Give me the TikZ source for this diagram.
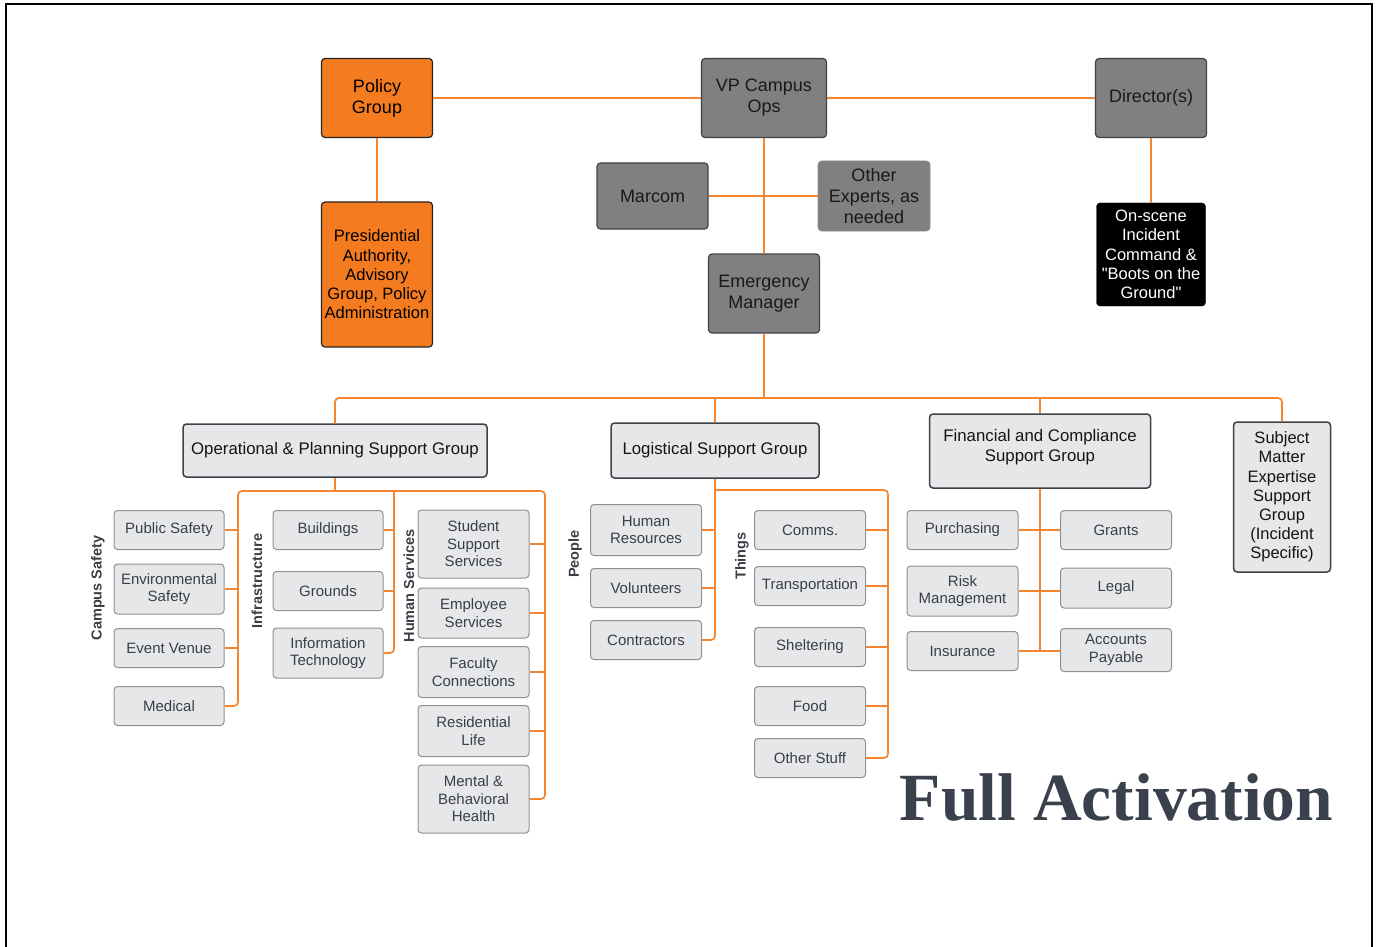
\documentclass[tikz,border=0pt]{standalone}
\usepackage{fontspec}
\setmainfont{Liberation Sans}
\newfontfamily\qfont{Liberation Sans}
\newfontfamily\titlefont{Liberation Serif}
\definecolor{orgfill}{HTML}{F47B20}
\definecolor{orgline}{HTML}{F5852F}
\definecolor{midgray}{HTML}{808080}
\definecolor{darkedge}{HTML}{3D4249}
\definecolor{leaffill}{HTML}{E6E7E9}
\definecolor{leafedge}{HTML}{8E9196}
\definecolor{leaftext}{HTML}{3A3F47}
\definecolor{titlecol}{HTML}{3A414C}
\tikzset{
  base/.style={inner sep=0pt, align=center, rounded corners=3.5pt},
  orangebox/.style={base, fill=orgfill, draw=black!85, line width=1.2pt, text=black},
  darkbox/.style={base, fill=midgray, draw=darkedge, line width=1.2pt, text=black!90},
  softbox/.style={base, fill=midgray, draw=midgray!90, line width=0.6pt, text=black!90},
  blackbox/.style={base, fill=black, draw=black, text=white},
  groupbox/.style={base, fill=leaffill, draw=darkedge, line width=1.5pt, text=black!92,
     font=\fontsize{16.8}{20}\selectfont},
  leaf/.style={base, fill=leaffill, draw=leafedge, line width=1pt, text=leaftext,
     font=\fontsize{15}{17.5}\selectfont},
  sidelabel/.style={rotate=90, font=\bfseries\fontsize{14.5}{16}\selectfont, text=leaftext, inner sep=0pt},
  conn/.style={draw=orgline, line width=1.7pt, rounded corners=4pt},
}
\begin{document}
\begin{tikzpicture}[x=1pt,y=-1pt]
\useasboundingbox (0,0) rectangle (1377,947);
% frame
\draw[line width=2.5pt, black] (6,950) -- (6,4) -- (1372,4) -- (1372,950);

% top level
\node[orangebox, minimum width=111, minimum height=79, font=\fontsize{18}{21}\selectfont] (policy) at (377,98) {Policy\\Group};
\node[orangebox, minimum width=111, minimum height=145, font=\fontsize{16.5}{19.25}\selectfont] (pres) at (377,274.5) {Presidential\\Authority,\\Advisory\\Group, Policy\\Administration};
\node[darkbox, minimum width=125, minimum height=79, font=\fontsize{18}{21}\selectfont] (vp) at (764,98) {VP Campus\\Ops};
\node[darkbox, minimum width=111, minimum height=79, font=\fontsize{18}{21}\selectfont] (dir) at (1151,98) {Director(s)};
\node[darkbox, minimum width=111, minimum height=66, font=\fontsize{18}{21}\selectfont] (marcom) at (652.5,196) {Marcom};
\node[softbox, minimum width=112, minimum height=70, font=\fontsize{18}{21}\selectfont] (other) at (874,196) {Other\\Experts, as\\needed};
\node[darkbox, minimum width=111, minimum height=79, font=\fontsize{18}{21}\selectfont] (em) at (764,293.5) {Emergency\\Manager};
\node[blackbox, minimum width=109, minimum height=103, font=\fontsize{16.5}{19.25}\selectfont] (onscene) at (1151,254.5) {On-scene\\Incident\\Command \&\\{\qfont"}Boots on the\\Ground{\qfont"}};

\draw[conn] (policy.east) -- (vp.west);
\draw[conn] (vp.east) -- (dir.west);
\draw[conn] (policy.south) -- (pres.north);
\draw[conn] (dir.south) -- (onscene.north);
\draw[conn] (marcom.east) -- (other.west);
\draw[conn] (vp.south) -- (em.north);

% second level
\node[groupbox, minimum width=304, minimum height=53] (opsg) at (335,450.5) {Operational \& Planning Support Group};
\node[groupbox, minimum width=208, minimum height=55] (lsg) at (715,450.5) {Logistical Support Group};
\node[groupbox, minimum width=221, minimum height=74] (fcsg) at (1040,451) {Financial and Compliance\\Support Group\\[-14pt]\strut};
\node[groupbox, minimum width=97, minimum height=150, font=\fontsize{16.5}{19.2}\selectfont] (sme) at (1282,497) {Subject\\Matter\\Expertise\\Support\\Group\\(Incident\\Specific)};

\coordinate (bus) at (764,398);
\draw[conn] (em.south) -- (bus);
\draw[conn] (opsg.north) |- (bus) -| (sme.north);
\draw[conn] (lsg.north) -- (lsg.north |- bus);
\draw[conn] (fcsg.north) -- (fcsg.north |- bus);

% Operational children
\node[leaf, minimum width=110, minimum height=39] (ps)  at (169,530) {Public Safety};
\node[leaf, minimum width=110, minimum height=50] (env) at (169,589) {Environmental\\Safety};
\node[leaf, minimum width=110, minimum height=39] (ev)  at (169,648) {Event Venue};
\node[leaf, minimum width=110, minimum height=39] (med) at (169,706) {Medical};
\node[leaf, minimum width=110, minimum height=39] (bld) at (328,530) {Buildings};
\node[leaf, minimum width=110, minimum height=39] (grd) at (328,591) {Grounds};
\node[leaf, minimum width=110, minimum height=50] (it)  at (328,653) {Information\\Technology};
\node[leaf, minimum width=111, minimum height=68] (ss)  at (473.5,544) {Student\\Support\\Services};
\node[leaf, minimum width=111, minimum height=50] (es)  at (473.5,613) {Employee\\Services};
\node[leaf, minimum width=111, minimum height=51] (fc)  at (473.5,672) {Faculty\\Connections};
\node[leaf, minimum width=111, minimum height=51] (rl)  at (473.5,731) {Residential\\Life};
\node[leaf, minimum width=111, minimum height=68] (mh)  at (473.5,799) {Mental \&\\Behavioral\\Health};

\node[sidelabel] (lcs) at (98,588) {Campus Safety};
\node[sidelabel] (lin) at (257,581) {Infrastructure};
\node[sidelabel] (lhs) at (409,586) {Human Services};

\coordinate (csTop) at (238,491);
\coordinate (inTop) at (394,491);
\coordinate (hsTop) at (545,491);
\draw[conn] (opsg.south) -- (opsg.south |- csTop);
\draw[conn] (med.east) -| (csTop) -- (hsTop) |- (mh.east);
\draw[conn] (inTop) |- (it.east);
\draw[conn] (ps.east) -- (ps.east -| csTop);
\draw[conn] (env.east) -- (env.east -| csTop);
\draw[conn] (ev.east) -- (ev.east -| csTop);
\draw[conn] (bld.east) -- (bld.east -| inTop);
\draw[conn] (grd.east) -- (grd.east -| inTop);
\draw[conn] (ss.east) -- (ss.east -| hsTop);
\draw[conn] (es.east) -- (es.east -| hsTop);
\draw[conn] (fc.east) -- (fc.east -| hsTop);
\draw[conn] (rl.east) -- (rl.east -| hsTop);

% Logistical children
\node[leaf, minimum width=111, minimum height=51] (hr)   at (646,530) {Human\\Resources};
\node[leaf, minimum width=111, minimum height=39] (vol)  at (646,588) {Volunteers};
\node[leaf, minimum width=111, minimum height=39] (con)  at (646,640) {Contractors};
\node[leaf, minimum width=111, minimum height=39] (comms) at (810,530) {Comms.};
\node[leaf, minimum width=111, minimum height=39] (trans) at (810,586) {Transportation};
\node[leaf, minimum width=111, minimum height=39] (shel) at (810,647) {Sheltering};
\node[leaf, minimum width=111, minimum height=39] (food) at (810,706) {Food};
\node[leaf, minimum width=111, minimum height=39] (os)   at (810,758) {Other Stuff};

\node[sidelabel] (lpe) at (575,554) {People};
\node[sidelabel] (lth) at (742,556) {Things};

\coordinate (thTop) at (888,490);
\draw[conn] (con.east) -| (lsg.south);
\draw[conn] (lsg.south |- thTop) -- (thTop) |- (os.east);
\draw[conn] (hr.east) -- (hr.east -| lsg.south);
\draw[conn] (vol.east) -- (vol.east -| lsg.south);
\draw[conn] (comms.east) -- (comms.east -| thTop);
\draw[conn] (trans.east) -- (trans.east -| thTop);
\draw[conn] (shel.east) -- (shel.east -| thTop);
\draw[conn] (food.east) -- (food.east -| thTop);

% Financial children
\node[leaf, minimum width=111, minimum height=39] (pur)  at (962.5,530) {Purchasing};
\node[leaf, minimum width=111, minimum height=50] (risk) at (962.5,591) {Risk\\Management};
\node[leaf, minimum width=111, minimum height=39] (ins)  at (962.5,651) {Insurance};
\node[leaf, minimum width=111, minimum height=39] (gr)   at (1116,530) {Grants};
\node[leaf, minimum width=111, minimum height=40] (leg)  at (1116,588) {Legal};
\node[leaf, minimum width=111, minimum height=43] (ap)   at (1116,650) {Accounts\\Payable};

\draw[conn] (fcsg.south) -- (fcsg.south |- ins.east);
\draw[conn] (pur.east) -- (gr.west |- pur.east);
\draw[conn] (risk.east) -- (leg.west |- risk.east);
\draw[conn] (ins.east) -- (ap.west |- ins.east);

% title
\node[inner sep=0pt, text=titlecol, font=\titlefont\bfseries\fontsize{67.5}{70}\selectfont] (title) at (1116.5,797) {Full Activation};
\end{tikzpicture}
\end{document}
